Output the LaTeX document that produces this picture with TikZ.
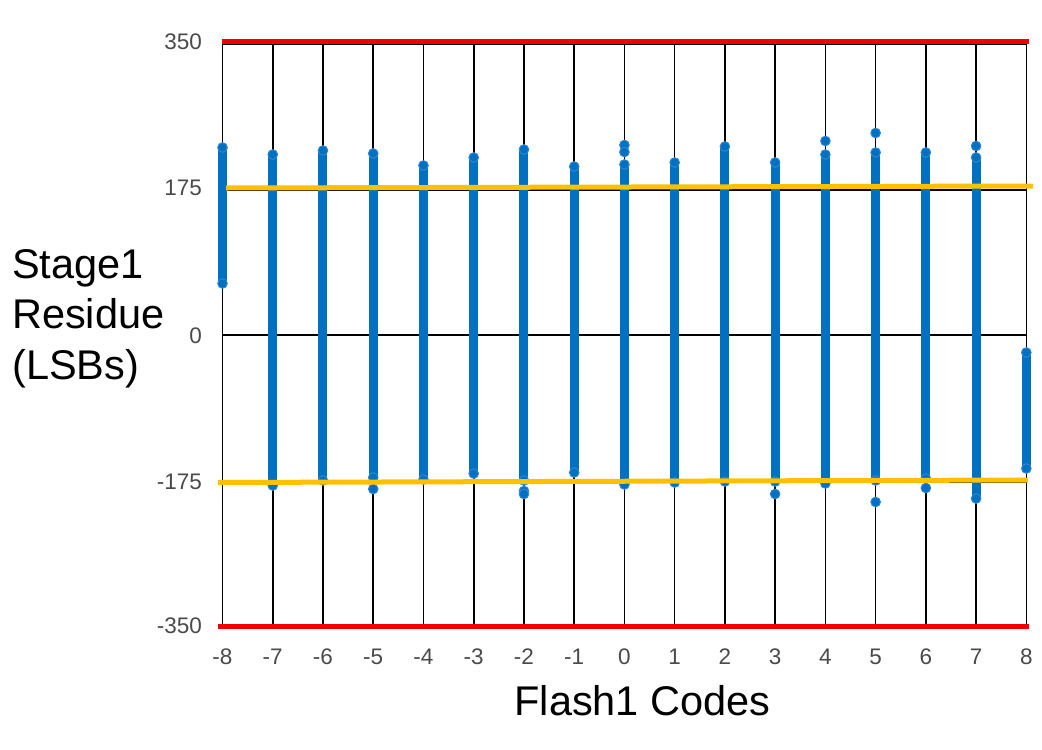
\documentclass[tikz,border=0pt]{standalone}
\usepackage{fontspec}
\setmainfont{Liberation Sans}
\definecolor{barblue}{HTML}{0070C0}
\definecolor{dotedge}{HTML}{2E86D4}
\definecolor{redline}{HTML}{F00000}
\definecolor{yelline}{HTML}{FFC000}
\definecolor{ticktext}{HTML}{4A4A4A}
\begin{document}
\begin{tikzpicture}[x=1pt,y=-1pt,
  gridline/.style={black,line width=1.6pt},
  limitline/.style={redline,line width=5pt},
  bandline/.style={yelline,line width=5pt},
  bar/.style={barblue,line width=9pt,line cap=round},
  dot/.style={fill=barblue,draw=dotedge,line width=1pt},
  ytick/.style={anchor=east,text=ticktext,font=\fontsize{22.5}{26}\selectfont,inner sep=0pt},
  xtick/.style={anchor=center,text=ticktext,font=\fontsize{22.5}{26}\selectfont,inner sep=0pt},
  axtitle/.style={font=\fontsize{41.5}{50}\selectfont,inner sep=0pt}]
\useasboundingbox (0,0) rectangle (1042,750);
% horizontal grid
\foreach \yy in {44,190,335,482,626} \draw[gridline] (222.5,\yy) -- (1026.3,\yy);
% vertical grid
\foreach \i in {0,...,16} \draw[gridline] ({222.5+\i*50.24},44) -- ({222.5+\i*50.24},626);
% blue bars: code index, top, bottom
\foreach \i/\t/\b in {0/143/288,1/150/490,2/146/485,3/149/482,4/161/484,5/153/478,6/145/485,7/162/477,8/160/489,9/158/487,10/142/486,11/158/486,12/150/488,13/148/485,14/148/483,15/153/503,16/348/473}{
  \draw[bar] ({222.5+\i*50.24},{\t+4.5}) -- ({222.5+\i*50.24},{\b-4.5});
  \filldraw[dot] ({222.5+\i*50.24},{\t+4.5}) circle (4.8);
  \filldraw[dot] ({222.5+\i*50.24},{\b-4.5}) circle (4.8);
}
% isolated markers
\foreach \i/\yy in {3/489,6/491,6/494,8/145,8/152,11/494,12/141,13/133,13/502,14/488,15/146}{
  \filldraw[dot] ({222.5+\i*50.24},\yy) circle (4.8);
}
% limit lines
\draw[limitline] (222,41.5) -- (1029,41.5);
\draw[limitline] (218,626) -- (1029,626);
\draw[bandline] (226,188) -- (1033,186);
\draw[bandline] (218,482.5) -- (1028,480);
% y ticks
\node[ytick] (y350) at (202,42) {350};
\node[ytick] (y175) at (202,188) {175};
\node[ytick] (y0) at (202,336) {0};
\node[ytick] (ym175) at (202,482) {-175};
\node[ytick] (ym350) at (202,626) {-350};
% x ticks
\foreach \i in {0,...,16}{
  \pgfmathtruncatemacro{\lab}{\i-8}
  \node[xtick] (x\i) at ({222.5+\i*50.24},657) {\lab};
}
% titles
\node[axtitle,anchor=base] (xtitle) at (642.5,715) {Flash1 Codes};
\node[axtitle,anchor=base west] (yt1) at (12,278) {Stage1};
\node[axtitle,anchor=base west] (yt2) at (12,328.5) {Residue};
\node[axtitle,anchor=base west] (yt3) at (12,379) {(LSBs)};
\end{tikzpicture}
\end{document}
